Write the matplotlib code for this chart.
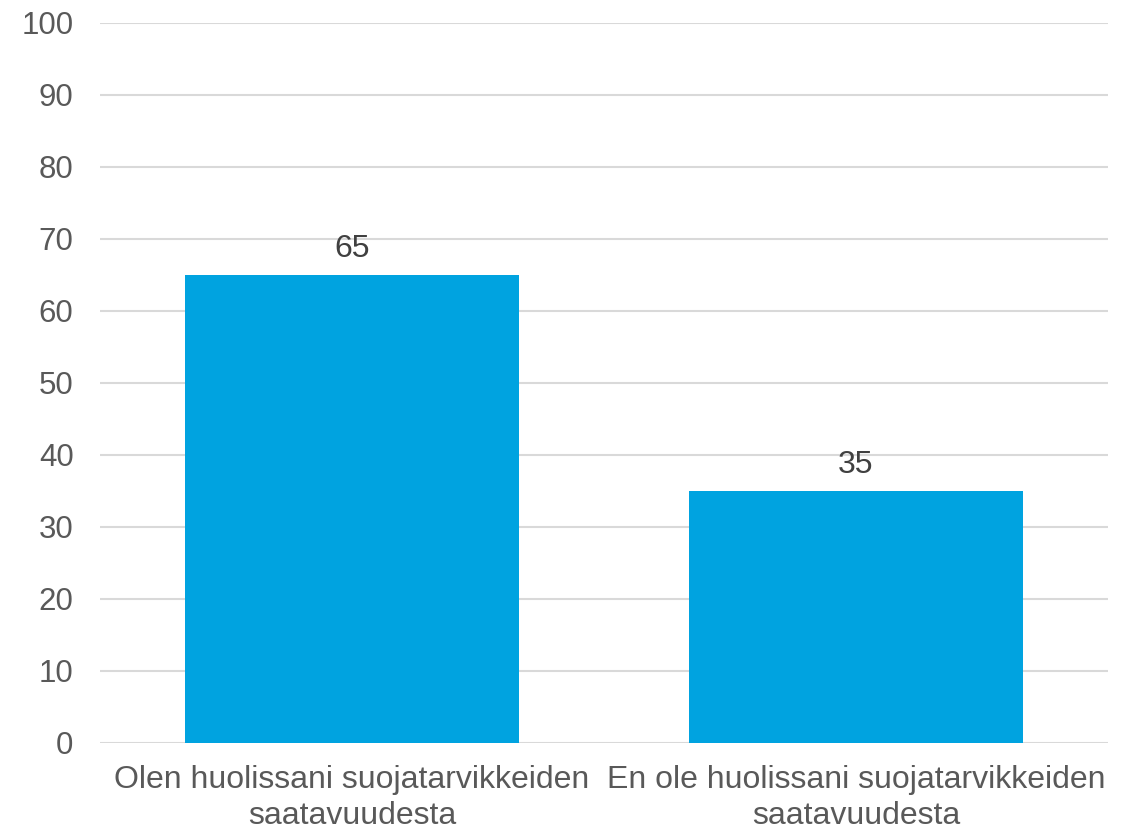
import matplotlib
matplotlib.use("Agg")
import matplotlib.pyplot as plt
import numpy as np

categories = ["Olen huolissani suojatarvikkeiden\nsaatavuudesta",
              "En ole huolissani suojatarvikkeiden\nsaatavuudesta"]
values = [65, 35]
yticks = list(range(0, 101, 10))

plt.rcParams["font.family"] = ["Liberation Sans", "DejaVu Sans"]

fig = plt.figure(figsize=(11.24, 8.32), dpi=100)
ax = fig.add_axes([100 / 1124, 1 - 743 / 832, 1008 / 1124, 720 / 832])

x = np.arange(len(categories))
bars = ax.bar(x, values, width=0.663, color="#00A3E0", zorder=2)
for b, v in zip(bars, values):
    ax.text(b.get_x() + b.get_width() / 2, v + 1.5, f"{v}", ha="center", va="bottom",
            fontsize=23, color="#404040")

ax.set_xlim(-0.5, len(categories) - 0.5)
ax.set_ylim(0, 100)
ax.set_yticks(yticks)
ax.set_xticks(x)
ax.set_xticklabels(categories, fontsize=23, color="#595959", linespacing=1.25)
ax.tick_params(axis="y", labelsize=22.5, labelcolor="#595959", length=0, pad=19)
ax.tick_params(axis="x", length=0, pad=16)
ax.yaxis.grid(True, color="#D9D9D9", linewidth=1.5, zorder=0)
ax.set_axisbelow(True)
for sp in ax.spines.values():
    sp.set_visible(False)

fig.savefig("out.png", dpi=100, facecolor="white")
